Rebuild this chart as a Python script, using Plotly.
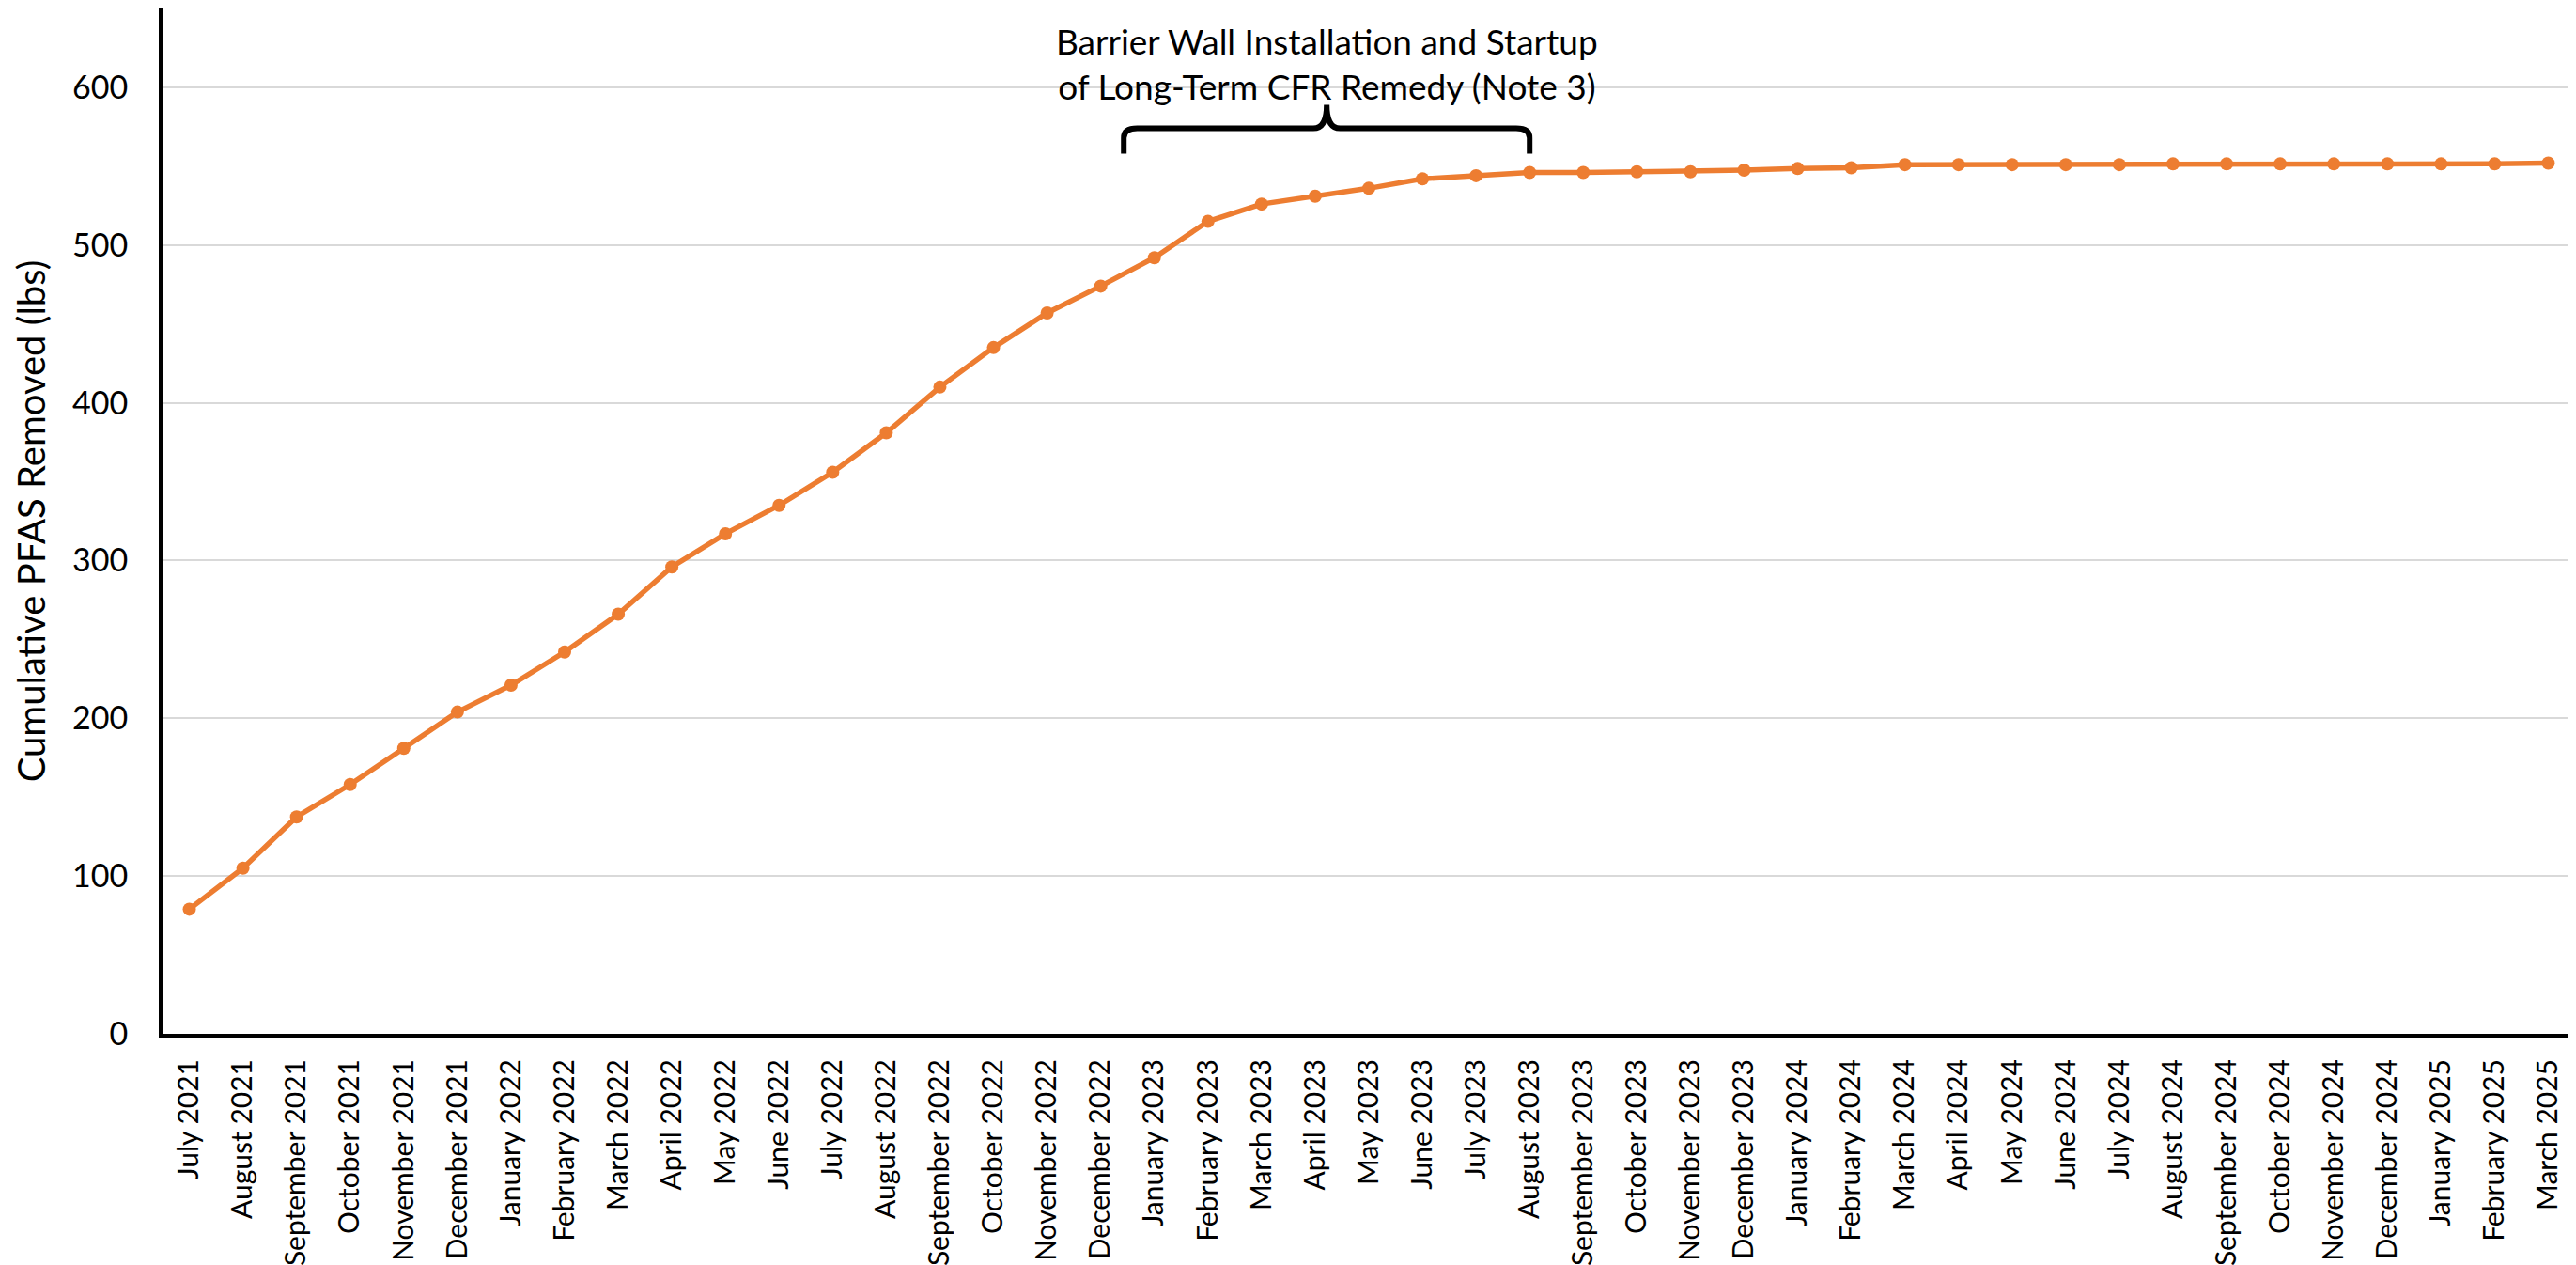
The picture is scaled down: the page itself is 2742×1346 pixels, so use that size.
import plotly.graph_objects as go

months = ["July 2021", "August 2021", "September 2021", "October 2021", "November 2021", "December 2021",
          "January 2022", "February 2022", "March 2022", "April 2022", "May 2022", "June 2022",
          "July 2022", "August 2022", "September 2022", "October 2022", "November 2022", "December 2022",
          "January 2023", "February 2023", "March 2023", "April 2023", "May 2023", "June 2023",
          "July 2023", "August 2023", "September 2023", "October 2023", "November 2023", "December 2023",
          "January 2024", "February 2024", "March 2024", "April 2024", "May 2024", "June 2024",
          "July 2024", "August 2024", "September 2024", "October 2024", "November 2024", "December 2024",
          "January 2025", "February 2025", "March 2025"]

cumulative_lbs = [79, 105, 137.5, 158, 181, 204,
                  221, 242, 266, 296, 317, 335,
                  356, 381, 410, 435, 457, 474,
                  492, 515, 526, 531, 536, 542,
                  544, 546, 546, 546.5, 546.5, 547.5,
                  548.5, 549, 551, 551, 551, 551,
                  551, 551.5, 551.5, 551.5, 551.5, 551.5,
                  551.5, 551.5, 552]

y_ticks = [0, 100, 200, 300, 400, 500, 600]

annotation_text = "Barrier Wall Installation and Startup<br>of Long-Term CFR Remedy (Note 3)"
# bracket extent (category index units) and heights (lbs)
brk_x0, brk_x1 = 17.43, 25.0
brk_y_bottom, brk_y_bar, brk_y_tip = 558, 574, 589
annotation_y = 615

FONT = "Lato, Carlito, Calibri, sans-serif"
ORANGE = "#ED7D31"

fig = go.Figure()
fig.add_trace(go.Scatter(
    x=months, y=cumulative_lbs, mode="lines+markers",
    line=dict(color=ORANGE, width=5.5),
    marker=dict(color=ORANGE, size=14),
    showlegend=False, cliponaxis=False,
))

xm = (brk_x0 + brk_x1) / 2
dx = 0.25
dy = 6
path = (f"M {brk_x0},{brk_y_bottom} L {brk_x0},{brk_y_bar - dy} "
        f"Q {brk_x0},{brk_y_bar} {brk_x0 + dx},{brk_y_bar} "
        f"L {xm - dx},{brk_y_bar} Q {xm},{brk_y_bar} {xm},{brk_y_tip} "
        f"Q {xm},{brk_y_bar} {xm + dx},{brk_y_bar} "
        f"L {brk_x1 - dx},{brk_y_bar} Q {brk_x1},{brk_y_bar} {brk_x1},{brk_y_bar - dy} "
        f"L {brk_x1},{brk_y_bottom}")
fig.add_shape(type="path", path=path, xref="x", yref="y",
              line=dict(color="black", width=6))

fig.add_annotation(x=xm, y=annotation_y, xref="x", yref="y", text=annotation_text,
                   showarrow=False, font=dict(family=FONT, size=37, color="black"),
                   align="center", yanchor="middle")

fig.update_layout(
    width=2742, height=1346,
    margin=dict(l=165, r=9, t=1, b=254),
    paper_bgcolor="white", plot_bgcolor="white",
    font=dict(family=FONT, color="black"),
)
fig.update_xaxes(
    type="category", range=[-0.5, len(months) - 0.5], automargin=False,
    tickangle=-90, tickfont=dict(size=30, color="black", family=FONT),
    showline=True, linecolor="black", linewidth=4, mirror=True,
    showgrid=False, ticks="", ticklabelstandoff=11,
)
fig.update_yaxes(
    range=[0, 650], tickvals=y_ticks, ticktext=[str(v) for v in y_ticks], automargin=False,
    tickfont=dict(size=34, color="black", family=FONT),
    showline=True, linecolor="black", linewidth=4,
    showgrid=True, gridcolor="#D9D9D9", gridwidth=1.5,
    zeroline=False, ticks="", ticklabelstandoff=26,
    title=dict(text="Cumulative PFAS Removed (lbs)", font=dict(size=40, color="black", family=FONT),
               standoff=17),
)

fig.write_html("out.html")
